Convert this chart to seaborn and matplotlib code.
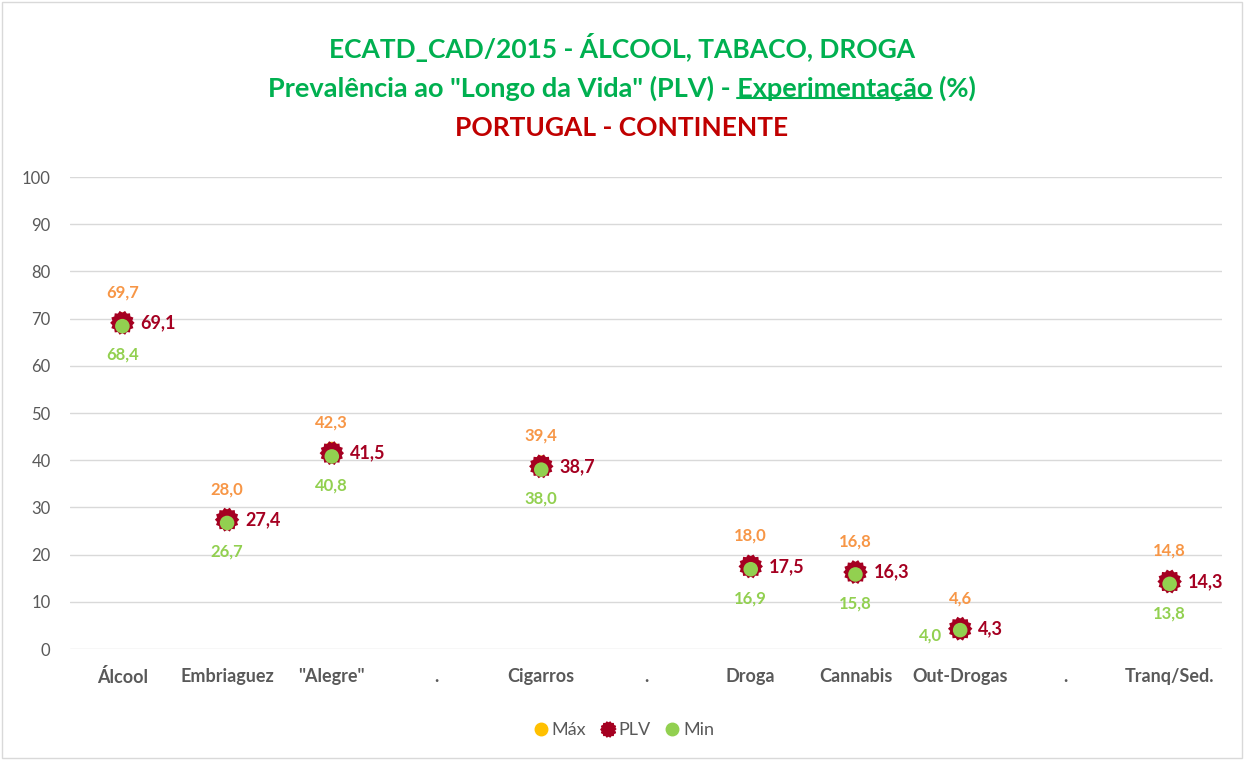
import numpy as np
import pandas as pd
import seaborn as sns
import matplotlib.pyplot as plt
from matplotlib.lines import Line2D

# dados
categorias = ["Álcool", "Embriaguez", '"Alegre"', ".", "Cigarros", ".",
              "Droga", "Cannabis", "Out-Drogas", ".", "Tranq/Sed."]
maximo = [69.7, 28.0, 42.3, np.nan, 39.4, np.nan, 18.0, 16.8, 4.6, np.nan, 14.8]
plv = [69.1, 27.4, 41.5, np.nan, 38.7, np.nan, 17.5, 16.3, 4.3, np.nan, 14.3]
minimo = [68.4, 26.7, 40.8, np.nan, 38.0, np.nan, 16.9, 15.8, 4.0, np.nan, 13.8]

df = pd.DataFrame({"pos": np.arange(len(categorias)), "cat": categorias,
                   "Máx": maximo, "PLV": plv, "Min": minimo})

c_max = "#FFC000"
c_max_lbl = "#F79646"
c_plv = "#A50021"
c_min = "#92D050"
c_verde = "#00B050"
c_txt = "#595959"

sns.set_theme(style="white")
plt.rcParams["font.family"] = ["Lato", "DejaVu Sans"]

# marcador "estrela" com muitas pontas
n = 14
ang = np.linspace(0, 2 * np.pi, 2 * n, endpoint=False)
rad = np.where(np.arange(2 * n) % 2 == 0, 1.0, 0.84)
estrela = list(zip(rad * np.cos(ang), rad * np.sin(ang)))

fig = plt.figure(figsize=(12.44, 7.6), dpi=100)
ax = fig.add_axes([70 / 1244, 1 - 649 / 760, 1152 / 1244, 472 / 760])

sns.scatterplot(data=df, x="pos", y="Máx", ax=ax, color=c_max, s=120,
                edgecolor="none", zorder=3)
sns.scatterplot(data=df, x="pos", y="PLV", ax=ax, color=c_plv, s=310,
                marker=estrela, edgecolor="none", zorder=4)
sns.scatterplot(data=df, x="pos", y="Min", ax=ax, color=c_min, s=110,
                edgecolor="none", zorder=5)

fmt = lambda v: f"{v:.1f}".replace(".", ",")
for i, r in df.iterrows():
    if np.isnan(r["PLV"]):
        continue
    ax.annotate(fmt(r["Máx"]), (r["pos"], r["PLV"]), xytext=(0, 22),
                textcoords="offset points", ha="center", va="center",
                color=c_max_lbl, fontsize=12, fontweight="bold")
    ax.annotate(fmt(r["PLV"]), (r["pos"], r["PLV"]), xytext=(13, 0),
                textcoords="offset points", ha="left", va="center",
                color=c_plv, fontsize=13, fontweight="bold")
    if r["cat"] == "Out-Drogas":
        ax.annotate(fmt(r["Min"]), (r["pos"], r["PLV"]), xytext=(-13, -5),
                    textcoords="offset points", ha="right", va="center",
                    color=c_min, fontsize=12, fontweight="bold")
    else:
        ax.annotate(fmt(r["Min"]), (r["pos"], r["PLV"]), xytext=(0, -23),
                    textcoords="offset points", ha="center", va="center",
                    color=c_min, fontsize=12, fontweight="bold")

ax.set_xlim(-0.5, len(categorias) - 0.5)
ax.set_ylim(0, 100)
ax.set_yticks(range(0, 101, 10))
ax.set_xticks(df["pos"])
ax.set_xticklabels(categorias, fontsize=13, fontweight="bold", color=c_txt)
ax.tick_params(axis="y", labelsize=12, labelcolor=c_txt, length=0, pad=14)
ax.tick_params(axis="x", length=0, pad=14)
ax.grid(axis="y", color="#D9D9D9", linewidth=1)
ax.set_axisbelow(True)
for s in ax.spines.values():
    s.set_visible(False)
ax.set_xlabel("")
ax.set_ylabel("")

# legenda
handles = [
    Line2D([], [], marker="o", ls="", color=c_max, markersize=9),
    Line2D([], [], marker=estrela, ls="", color=c_plv, markersize=11),
    Line2D([], [], marker="o", ls="", color=c_min, markersize=9),
]
fig.legend(handles, ["Máx", "PLV", "Min"], loc="center", ncol=3,
           bbox_to_anchor=(0.5, 1 - 730 / 760), frameon=False,
           handletextpad=0.0, columnspacing=0.6, handlelength=1.2,
           prop={"size": 13}, labelcolor=c_txt)

# títulos
fig.text(0.5, 1 - 47 / 760, "ECATD_CAD/2015 - ÁLCOOL, TABACO, DROGA",
         ha="center", va="center", color=c_verde, fontsize=19, fontweight="bold")
l2a = 'Prevalência ao "Longo da Vida" (PLV) - '
l2b = "Experimentação"
l2c = " (%)"
t2 = fig.text(0.5, 1 - 88 / 760, l2a + l2b + l2c, ha="center", va="center",
              color=c_verde, fontsize=19.5, fontweight="bold")
fig.text(0.5, 1 - 128 / 760, "PORTUGAL - CONTINENTE", ha="center",
         va="center", color="#C00000", fontsize=19, fontweight="bold")

# sublinhado em "Experimentação"
fig.canvas.draw()
rend = fig.canvas.get_renderer()
bb = t2.get_window_extent(rend)
tmp = fig.text(0, 0, l2a, fontsize=19.5, fontweight="bold")
w_a = tmp.get_window_extent(rend).width
tmp.set_text(l2a + l2b)
w_ab = tmp.get_window_extent(rend).width
tmp.remove()
x0 = (bb.x0 + w_a) / fig.bbox.width
x1 = (bb.x0 + w_ab) / fig.bbox.width
yl = (bb.y0 + 3) / fig.bbox.height
fig.add_artist(Line2D([x0, x1], [yl, yl], color=c_verde, linewidth=1.5,
                      transform=fig.transFigure))

# moldura
fig.add_artist(plt.Rectangle((0.002, 0.002), 0.996, 0.996, fill=False,
                             edgecolor="#D9D9D9", linewidth=1,
                             transform=fig.transFigure))

fig.savefig("out.png", dpi=100)
